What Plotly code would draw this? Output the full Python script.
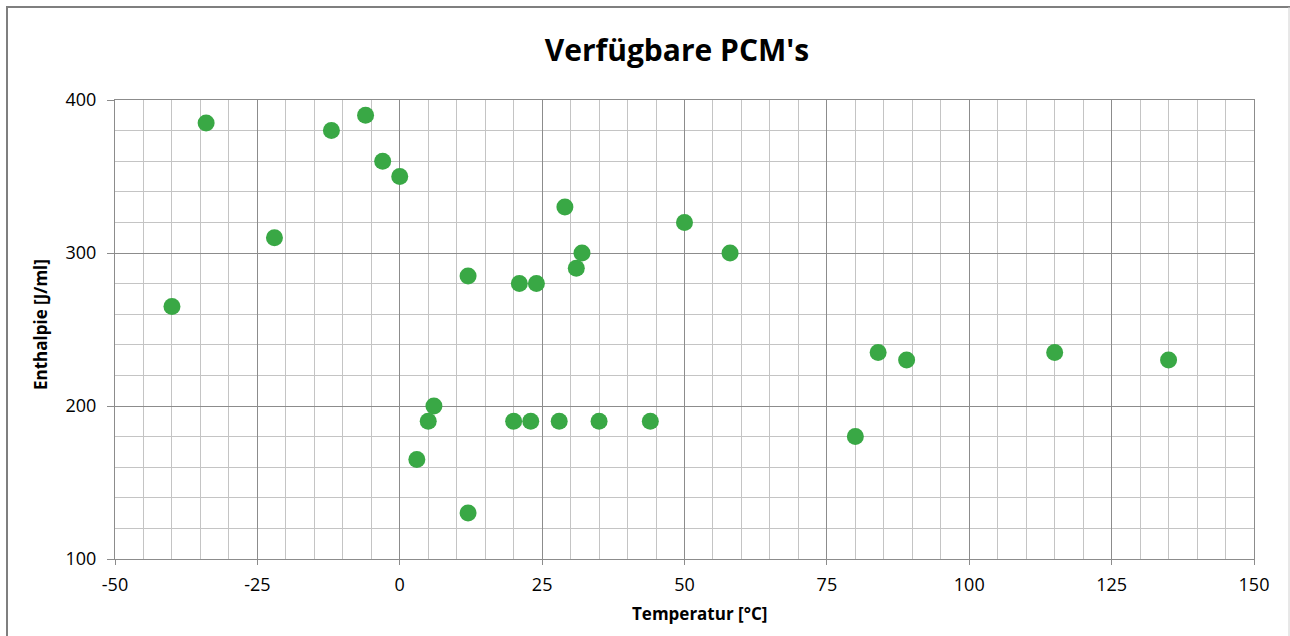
import plotly.graph_objects as go

temperature = [-40, -34, -22, -12, -6, -3, 0, 12, 12, 3, 5, 6, 20, 23, 28, 35, 44,
               21, 24, 29, 31, 32, 50, 58, 80, 84, 89, 115, 135]
enthalpy = [265, 385, 310, 380, 390, 360, 350, 285, 130, 165, 190, 200, 190, 190, 190, 190, 190,
            280, 280, 330, 290, 300, 320, 300, 180, 235, 230, 235, 230]

x_ticks = [-50, -25, 0, 25, 50, 75, 100, 125, 150]
y_ticks = [100, 200, 300, 400]

FONT = "Open Sans"
GREEN = "#39A845"
MAJOR = "#8c8c8c"
MINOR = "#c4c4c4"

L, T, R, B = 115, 100, 36, 77
W, H = 1290, 636
PW, PH = W - L - R, H - T - B


def px_x(px):
    return (px - L) / PW


def px_y(py):
    return (H - B - py) / PH


fig = go.Figure()
fig.add_trace(go.Scatter(
    x=temperature, y=enthalpy, mode="markers",
    marker=dict(size=17, color=GREEN, line=dict(width=0)),
    showlegend=False, hoverinfo="x+y",
))

fig.update_layout(
    width=W, height=H,
    margin=dict(l=L, r=R, t=T, b=B),
    paper_bgcolor="white", plot_bgcolor="white",
    font=dict(family=FONT, size=18, color="#000000"),
    title=dict(text="<b>Verfügbare PCM's</b>", x=px_x(677), xref="paper", xanchor="center",
               y=1 - 50 / H, yref="container", yanchor="middle",
               font=dict(family=FONT, size=30, color="#000000")),
    xaxis=dict(
        range=[x_ticks[0], x_ticks[-1]],
        tickmode="array", tickvals=x_ticks, ticktext=[str(v) for v in x_ticks],
        showgrid=True, gridcolor=MAJOR, gridwidth=1,
        minor=dict(dtick=5, tick0=-50, showgrid=True, gridcolor=MINOR, gridwidth=1, ticks=""),
        zeroline=False, showline=True, linecolor=MAJOR, linewidth=1, mirror=True,
        ticks="outside", ticklen=5, tickcolor=MAJOR, ticklabelstandoff=4,
        tickfont=dict(family=FONT, size=18),
    ),
    yaxis=dict(
        range=[y_ticks[0], y_ticks[-1]],
        tickmode="array", tickvals=y_ticks, ticktext=[str(v) for v in y_ticks],
        showgrid=True, gridcolor=MAJOR, gridwidth=1,
        minor=dict(dtick=20, tick0=100, showgrid=True, gridcolor=MINOR, gridwidth=1, ticks=""),
        zeroline=False, showline=True, linecolor=MAJOR, linewidth=1, mirror=True,
        ticks="outside", ticklen=7, tickcolor=MAJOR, ticklabelstandoff=7,
        tickfont=dict(family=FONT, size=18),
    ),
    annotations=[
        dict(text="<b>Temperatur [°C]</b>", xref="paper", yref="paper",
             x=px_x(699), y=px_y(613), xanchor="center", yanchor="middle",
             showarrow=False, font=dict(family=FONT, size=17)),
        dict(text="<b>Enthalpie [J/ml]</b>", xref="paper", yref="paper",
             x=px_x(40), y=px_y(325), xanchor="center", yanchor="middle",
             textangle=-90, showarrow=False, font=dict(family=FONT, size=17)),
    ],
    shapes=[
        dict(type="line", xref="paper", yref="paper",
             x0=px_x(7), x1=px_x(7), y0=px_y(7), y1=px_y(645),
             line=dict(color="#7f7f7f", width=2)),
        dict(type="line", xref="paper", yref="paper",
             x0=px_x(6), x1=px_x(1290), y0=px_y(7), y1=px_y(7),
             line=dict(color="#7f7f7f", width=2)),
        dict(type="line", xref="paper", yref="paper",
             x0=px_x(1289), x1=px_x(1289), y0=px_y(7), y1=px_y(645),
             line=dict(color="#d0d0d0", width=1)),
    ],
)

fig.write_html("out.html", config={"displayModeBar": False},
               post_script="document.body.style.margin='0';document.body.style.overflow='hidden';")
